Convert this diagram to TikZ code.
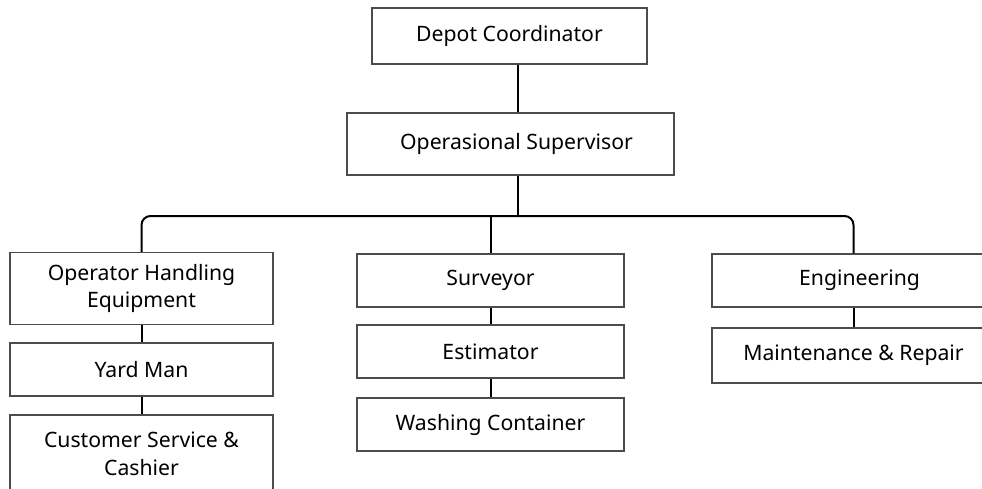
\documentclass[tikz,border=0pt]{standalone}
\usepackage{fontspec}
\setmainfont{Noto Sans}
\begin{document}
\begin{tikzpicture}[x=1pt,y=-1pt,
  box/.style={draw=black!70,line width=1.1pt,inner sep=2pt,align=center,
    text=black,font=\fontsize{21.2}{27.5}\selectfont},
  link/.style={draw=black,line width=2pt,rounded corners=9pt}]
\useasboundingbox (0,0) rectangle (982,489);
\clip (0,0) rectangle (982,489);

% top of the hierarchy
\node[box,minimum width=275,minimum height=56] (dc) at (509.5,36) {Depot Coordinator};
\node[box,minimum width=327,minimum height=62] (os) at (510.5,144) {\hspace*{12pt}Operasional Supervisor};

% left column
\node[box,minimum width=263,minimum height=72] (ohe) at (141.5,288.5) {Operator Handling\\Equipment};
\node[box,minimum width=263,minimum height=53] (ym) at (141.5,369.5) {Yard Man};
\node[box,minimum width=263,minimum height=78] (cs) at (141.5,454) {Customer Service \&\\Cashier};

% middle column
\node[box,minimum width=267,minimum height=53] (sv) at (490.5,280.5) {Surveyor};
\node[box,minimum width=267,minimum height=53] (es) at (490.5,351.5) {Estimator};
\node[box,minimum width=267,minimum height=53] (wc) at (490.5,424.5) {Washing Container};

% right column
\node[box,minimum width=283,minimum height=53] (en) at (853.5,280.5) {\hspace*{12pt}Engineering};
\node[box,minimum width=283,minimum height=55] (mr) at (853.5,355.5) {Maintenance \& Repair};

% trunk and branch lines
\coordinate (trunk) at (517.5,0);
\coordinate (bus) at (0,216);
\draw[link] (trunk |- dc.south) -- (trunk |- os.north);
\draw[link] (trunk |- os.south) -- (trunk |- bus);
\draw[link] (ohe.north) -- (ohe.north |- bus) -- (en.north |- bus) -- (en.north);
\draw[link] (sv.north |- bus) -- (sv.north);

% links inside each column
\draw[link] (ohe.south) -- (ym.north);
\draw[link] (ym.south) -- (cs.north);
\draw[link] (sv.south) -- (es.north);
\draw[link] (es.south) -- (wc.north);
\draw[link] (en.south) -- (mr.north);
\end{tikzpicture}
\end{document}
